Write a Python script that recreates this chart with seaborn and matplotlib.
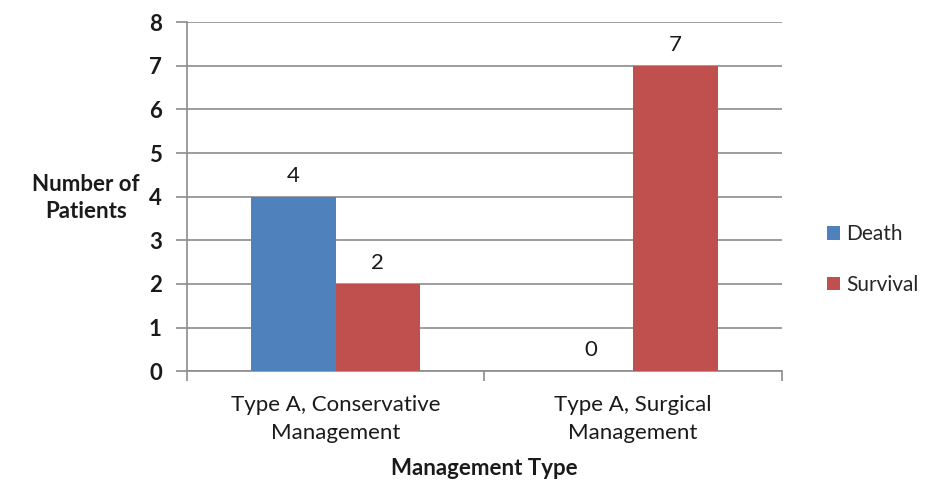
import matplotlib
matplotlib.use("Agg")
import matplotlib.pyplot as plt
import seaborn as sns
import pandas as pd

categories = ["Type A, Conservative\nManagement", "Type A, Surgical\nManagement"]
outcomes = ["Death", "Survival"]
death = [4, 0]
survival = [2, 7]

df = pd.DataFrame({
    "category": categories * 2,
    "outcome": [outcomes[0]] * 2 + [outcomes[1]] * 2,
    "count": death + survival,
})

sns.set_theme(style="white")
plt.rcParams["font.family"] = ["Lato", "DejaVu Sans"]

fig = plt.figure(figsize=(9.25, 4.82), dpi=100)
ax = fig.add_axes([0.202, 0.230, 0.643, 0.724])

palette = {"Death": "#4F81BD", "Survival": "#C0504D"}
sns.barplot(data=df, x="category", y="count", hue="outcome", order=categories,
            hue_order=outcomes, palette=palette, width=0.57, saturation=1,
            linewidth=0, ax=ax, zorder=3)

for cont in ax.containers:
    ax.bar_label(cont, labels=[f"{v:g}" for v in cont.datavalues], padding=8,
                 fontsize=16, color="#1a1a1a")

ax.set_ylim(0, 8)
ax.set_xlim(-0.5, 1.5)
ax.set_yticks(range(0, 9))
ax.yaxis.grid(True, color="#8c8c8c", linewidth=1.2, zorder=0)
ax.xaxis.grid(False)
for s in ["top", "right"]:
    ax.spines[s].set_visible(False)
for s in ["left", "bottom"]:
    ax.spines[s].set_color("#8c8c8c")
    ax.spines[s].set_linewidth(1.2)

ax.tick_params(axis="y", which="major", length=8, width=1.2, color="#8c8c8c",
               direction="out", left=True, labelsize=16, pad=10, labelcolor="#1a1a1a")
ax.tick_params(axis="x", which="major", length=0, labelsize=16, pad=17, labelcolor="#1a1a1a")
ax.set_xticks([-0.5, 0.5, 1.5], minor=True)
ax.tick_params(axis="x", which="minor", length=7, width=1.2, color="#8c8c8c",
               direction="out", bottom=True)
for lbl in ax.get_yticklabels():
    lbl.set_fontweight("bold")
for lbl in ax.get_xticklabels():
    lbl.set_linespacing(1.5)

ax.set_xlabel("Management Type", fontsize=16, fontweight="bold", labelpad=11, color="#1a1a1a")
ax.set_ylabel("Number of\nPatients", fontsize=16, fontweight="bold", rotation=0,
              color="#1a1a1a", ha="center", va="center", linespacing=1.35)
ax.yaxis.set_label_coords(-0.17, 0.495)

ax.legend(title=None, frameon=False, loc="center left", bbox_to_anchor=(1.045, 0.32),
          fontsize=15, handlelength=0.6, handleheight=0.6, handletextpad=0.3,
          labelspacing=1.45)

fig.savefig("out.png", dpi=100)
